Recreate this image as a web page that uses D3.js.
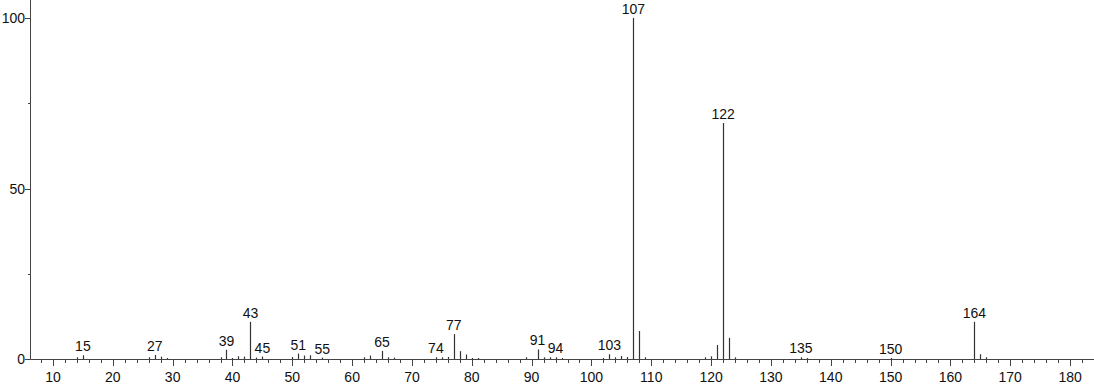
<!DOCTYPE html>
<html>
<head>
<meta charset="utf-8">
<script src="https://cdn.jsdelivr.net/npm/d3@7"></script>
<style>
  html, body { margin: 0; padding: 0; background: #fff; }
  svg { display: block; }
  text { font-family: "Liberation Sans", Arial, sans-serif; }
</style>
</head>
<body>
<svg id="chart" width="1094" height="384"></svg>
<script>
// m/z values and relative intensities
const mz = [14, 15, 26, 27, 28, 29, 38, 39, 40, 41, 42, 43, 44, 45,
            50, 51, 52, 53, 55, 62, 63, 65, 66, 67,
            74, 75, 76, 77, 78, 79, 80, 81,
            89, 91, 92, 93, 94, 95,
            102, 103, 104, 105, 106, 107, 108, 109,
            119, 120, 121, 122, 123, 124,
            135, 136, 150, 164, 165, 166];
const intensity = [0.5, 1.1, 0.5, 1.2, 0.7, 0.3, 0.5, 2.7, 0.3, 0.8, 0.7, 10.9, 0.4, 0.7,
                   0.6, 1.6, 1.0, 1.1, 0.4, 0.5, 1.0, 2.4, 0.5, 0.4,
                   0.5, 0.5, 0.6, 7.3, 2.3, 1.3, 0.3, 0.3,
                   0.5, 2.8, 0.5, 0.5, 0.5, 0.3,
                   0.3, 1.4, 0.5, 0.9, 0.6, 100, 8.2, 0.5,
                   0.5, 0.8, 4.1, 69.2, 6.2, 0.5,
                   0.5, 0.3, 0.3, 10.9, 1.4, 0.5];
const labeledPeaks = [15, 27, 39, 43, 45, 51, 55, 65, 74, 77, 91, 94, 103, 107, 122, 135, 150, 164];
const xTicks = [10, 20, 30, 40, 50, 60, 70, 80, 90, 100, 110, 120, 130, 140, 150, 160, 170, 180];
const yTicks = [0, 50, 100];
const yMinorTicks = [25, 75];

const svg = d3.select("#chart");
const x = d3.scaleLinear().domain([6.24, 184.0]).range([30.5, 1094]);
const y = d3.scaleLinear().domain([0, 100]).range([359, 18]);

const axisColor = "#444";
const lineColor = "#333";

// x axis minor ticks (every 2)
const minor = d3.range(8, 184, 2).filter(v => v % 10 !== 0);
const xAxisG = svg.append("g");
xAxisG.append("line")
  .attr("x1", x.range()[0]).attr("x2", x.range()[1])
  .attr("y1", y(0) + 0.5).attr("y2", y(0) + 0.5)
  .attr("stroke", axisColor);
xAxisG.selectAll(".minor").data(minor).join("line")
  .attr("x1", d => Math.round(x(d)) + 0.5).attr("x2", d => Math.round(x(d)) + 0.5)
  .attr("y1", y(0)).attr("y2", y(0) + 4)
  .attr("stroke", axisColor);
xAxisG.selectAll(".major").data(xTicks).join("line")
  .attr("x1", d => Math.round(x(d)) + 0.5).attr("x2", d => Math.round(x(d)) + 0.5)
  .attr("y1", y(0)).attr("y2", y(0) + 7)
  .attr("stroke", axisColor);
xAxisG.selectAll("text").data(xTicks).join("text")
  .attr("x", d => x(d)).attr("y", 382)
  .attr("text-anchor", "middle")
  .attr("font-size", 14)
  .attr("fill", "#111")
  .text(d => d);

// y axis
const yAxisG = svg.append("g");
yAxisG.append("line")
  .attr("x1", 30.5).attr("x2", 30.5)
  .attr("y1", 0).attr("y2", y(0) + 0.5)
  .attr("stroke", axisColor);
yAxisG.selectAll(".ymaj").data(yTicks).join("line")
  .attr("x1", 25).attr("x2", 30.5)
  .attr("y1", d => Math.round(y(d)) + 0.5).attr("y2", d => Math.round(y(d)) + 0.5)
  .attr("stroke", axisColor);
yAxisG.selectAll(".ymin").data(yMinorTicks).join("line")
  .attr("x1", 28).attr("x2", 30.5)
  .attr("y1", d => Math.round(y(d)) + 0.5).attr("y2", d => Math.round(y(d)) + 0.5)
  .attr("stroke", axisColor);
yAxisG.selectAll("text").data(yTicks).join("text")
  .attr("x", 25).attr("y", d => y(d) + 5)
  .attr("text-anchor", "end")
  .attr("font-size", 14)
  .attr("fill", "#111")
  .text(d => d);

// peaks
const peaks = mz.map((m, i) => ({ mz: m, v: intensity[i] }));
svg.append("g").selectAll("line").data(peaks).join("line")
  .attr("x1", d => Math.round(x(d.mz)) + 0.5).attr("x2", d => Math.round(x(d.mz)) + 0.5)
  .attr("y1", y(0)).attr("y2", d => y(d.v))
  .attr("stroke", lineColor)
  .attr("stroke-width", 1.2);

// peak labels
const labelData = peaks.filter(d => labeledPeaks.includes(d.mz));
svg.append("g").selectAll("text").data(labelData).join("text")
  .attr("x", d => x(d.mz)).attr("y", d => y(d.v) - 4)
  .attr("text-anchor", "middle")
  .attr("font-size", 14)
  .attr("fill", "#111")
  .text(d => d.mz);
</script>
</body>
</html>
